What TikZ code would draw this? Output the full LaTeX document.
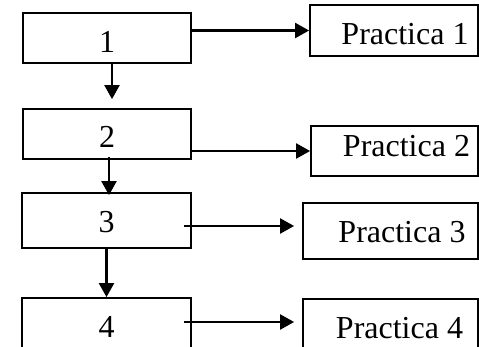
\documentclass[tikz,border=0pt]{standalone}
\usepackage{fontspec}
\setmainfont{Liberation Serif}
\usepackage{tikz}
\usetikzlibrary{arrows.meta,positioning,calc}

\begin{document}
\begin{tikzpicture}[
    x=1pt, y=-1pt,
    font=\fontsize{32}{36}\selectfont,
    stepbox/.style={rectangle, draw=black, line width=1.8pt, fill=white, inner sep=0pt, text height=30pt, text depth=0pt},
    arrow/.style={-{Triangle[length=14pt, width=15pt]}, line width=2.2pt}
]
    \useasboundingbox (0,0) rectangle (479,347);

    % Steps
    \node[stepbox, minimum width=168pt, minimum height=50pt] (s1) at (107,38) {1};
    \node[stepbox, minimum width=168pt, minimum height=50pt, text height=28pt] (s2) at (107,134) {2};
    \node[stepbox, minimum width=169pt, minimum height=55pt, text height=25pt] (s3) at (106.5,220.5) {3};
    \node[stepbox, minimum width=169pt, minimum height=60pt, text height=18pt] (s4) at (106.5,328) {4};

    % Practicas
    \node[stepbox, minimum width=168pt, minimum height=51pt, text height=29pt] (p1) at (394,30.5) {\hspace*{22pt}Practica 1};
    \node[stepbox, minimum width=167pt, minimum height=50pt, text height=12pt] (p2) at (394.5,151) {\hspace*{24pt}Practica 2};
    \node[stepbox, minimum width=175pt, minimum height=56pt, text height=24pt] (p3) at (390.5,231) {\hspace*{23pt}Practica 3};
    \node[stepbox, minimum width=175pt, minimum height=61pt, text height=17pt] (p4) at (390.5,329.5) {\hspace*{18pt}Practica 4};

    % Down the steps
    \draw[arrow] ([xshift=5pt, yshift=2pt]s1.south) -- ([xshift=5pt, yshift=9pt]s2.north);
    \draw[arrow] ([xshift=2pt, yshift=3pt]s2.south) -- ([xshift=2.5pt, yshift=-3pt]s3.north);
    \draw[arrow] (s3.south) -- (s4.north);

    % Out to the practicas
    \draw[arrow] (s1.east |- p1.west) -- (p1.west);
    \draw[arrow] (s2.east |- p2.west) -- (p2.west);
    \draw[arrow] ([xshift=-8pt, yshift=-5.5pt]s3.east) -- ([xshift=-8pt, yshift=-5.5pt]s3.east -| p3.west);
    \draw[arrow] ([xshift=-8pt, yshift=6pt]s4.east) -- ([xshift=-8pt, yshift=6pt]s4.east -| p4.west);

\end{tikzpicture}
\end{document}
